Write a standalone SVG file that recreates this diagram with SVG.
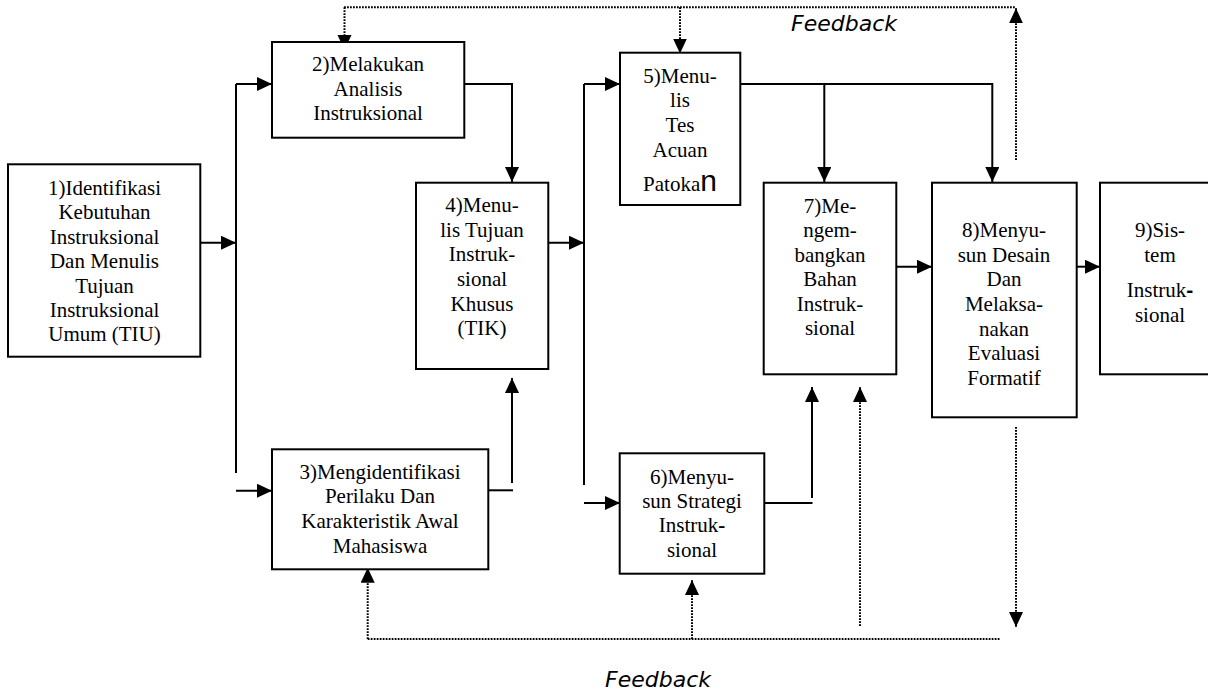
<svg xmlns="http://www.w3.org/2000/svg" width="1208" height="692" viewBox="0 0 1208 692">
  <style>
    .box { fill: #ffffff; stroke: #000000; stroke-width: 2; }
    .lbl { font-family: "Liberation Serif", "Times New Roman", serif; font-size: 21px; fill: #000000; text-anchor: middle; }
    .fb { font-family: "DejaVu Sans", Verdana, sans-serif; font-style: italic; font-size: 22px; fill: #000000; }
    .solid { fill: none; stroke: #000000; stroke-width: 2; }
    .dot { fill: none; stroke: #000000; stroke-width: 2; stroke-dasharray: 1.8 1.2; }
  </style>
  <defs>
    <marker id="ah" markerUnits="userSpaceOnUse" markerWidth="16" markerHeight="15" refX="15" refY="7" orient="auto">
      <path d="M0,0 L15,7 L0,14 z" fill="#000000"/>
    </marker>
  </defs>
  <rect width="1208" height="692" fill="#ffffff"/>

  <g id="connectors">
    <!-- solid flow -->
    <path class="solid" d="M200,242.7 H236" marker-end="url(#ah)"/>
    <path class="solid" d="M236,84 V473"/>
    <path class="solid" d="M236,84 H272" marker-end="url(#ah)"/>
    <path class="solid" d="M236,490.7 H272" marker-end="url(#ah)"/>
    <path class="solid" d="M464,84 H512 V182" marker-end="url(#ah)"/>
    <path class="solid" d="M488,490.3 H513"/>
    <path class="solid" d="M512,483 V378" marker-end="url(#ah)"/>
    <path class="solid" d="M548,242.7 H584" marker-end="url(#ah)"/>
    <path class="solid" d="M584,84 V485"/>
    <path class="solid" d="M584,84 H620" marker-end="url(#ah)"/>
    <path class="solid" d="M584,503 H620" marker-end="url(#ah)"/>
    <path class="solid" d="M740,84 H992.3 V182" marker-end="url(#ah)"/>
    <path class="solid" d="M824.3,84 V182" marker-end="url(#ah)"/>
    <path class="solid" d="M764,503 H812.5"/>
    <path class="solid" d="M812,498 V387" marker-end="url(#ah)"/>
    <path class="solid" d="M896,266.7 H932" marker-end="url(#ah)"/>
    <path class="solid" d="M1076.7,266.7 H1100" marker-end="url(#ah)"/>
    <!-- dotted feedback -->
    <path class="dot" d="M1016,160 V8.3" marker-end="url(#ah)"/>
    <path class="dot" d="M344,7.3 H1015"/>
    <path class="dot" d="M344.5,7.3 V50" marker-end="url(#ah)"/>
    <path class="dot" d="M680,7.3 V53.5" marker-end="url(#ah)"/>
    <path class="dot" d="M1016,427 V627" marker-end="url(#ah)"/>
    <path class="dot" d="M367.7,639 H1000.7"/>
    <path class="dot" d="M367.7,639 V567.7" marker-end="url(#ah)"/>
    <path class="dot" d="M692,639 V580" marker-end="url(#ah)"/>
    <path class="dot" d="M860,626 V387" marker-end="url(#ah)"/>
  </g>

  <g id="node1">
    <rect class="box" x="8" y="164.3" width="192.3" height="192.4"/>
    <text class="lbl" x="104.5" y="195">1)Identifikasi</text>
    <text class="lbl" x="104.5" y="219.4">Kebutuhan</text>
    <text class="lbl" x="104.5" y="243.8">Instruksional</text>
    <text class="lbl" x="104.5" y="268.2">Dan Menulis</text>
    <text class="lbl" x="104.5" y="292.6">Tujuan</text>
    <text class="lbl" x="104.5" y="317">Instruksional</text>
    <text class="lbl" x="104.5" y="341.4">Umum (TIU)</text>
  </g>

  <g id="node2">
    <rect class="box" x="272" y="42" width="192.3" height="95.7"/>
    <text class="lbl" x="368" y="71">2)Melakukan</text>
    <text class="lbl" x="368" y="96">Analisis</text>
    <text class="lbl" x="368" y="120">Instruksional</text>
  </g>

  <g id="node3">
    <rect class="box" x="272" y="449.3" width="216.3" height="120"/>
    <text class="lbl" x="380" y="479">3)Mengidentifikasi</text>
    <text class="lbl" x="380" y="503.4">Perilaku Dan</text>
    <text class="lbl" x="380" y="528">Karakteristik Awal</text>
    <text class="lbl" x="380" y="552.5">Mahasiswa</text>
  </g>

  <g id="node4">
    <rect class="box" x="416" y="182.7" width="132.3" height="186.3"/>
    <text class="lbl" x="482" y="212.3">4)Menu-</text>
    <text class="lbl" x="482" y="236.7">lis Tujuan</text>
    <text class="lbl" x="482" y="261.4">Instruk-</text>
    <text class="lbl" x="482" y="286">sional</text>
    <text class="lbl" x="482" y="310.6">Khusus</text>
    <text class="lbl" x="482" y="335">(TIK)</text>
  </g>

  <g id="node5">
    <rect class="box" x="620" y="52.7" width="120.3" height="152.3"/>
    <text class="lbl" x="680" y="82.7">5)Menu-</text>
    <text class="lbl" x="680" y="107.3">lis</text>
    <text class="lbl" x="680" y="131.7">Tes</text>
    <text class="lbl" x="680" y="156.5">Acuan</text>
    <text class="lbl" x="680" y="190.7">Patoka<tspan font-family="Liberation Sans, Arial, sans-serif" font-size="30px">n</tspan></text>
  </g>

  <g id="node6">
    <rect class="box" x="619.7" y="453.3" width="144.6" height="120.4"/>
    <text class="lbl" x="692" y="484">6)Menyu-</text>
    <text class="lbl" x="692" y="507.5">sun Strategi</text>
    <text class="lbl" x="692" y="531.7">Instruk<tspan font-weight="bold">-</tspan></text>
    <text class="lbl" x="692" y="556.5">sional</text>
  </g>

  <g id="node7">
    <rect class="box" x="763.7" y="182.7" width="132.6" height="191.6"/>
    <text class="lbl" x="830" y="212.7">7)Me-</text>
    <text class="lbl" x="830" y="236.7">ngem-</text>
    <text class="lbl" x="830" y="261.5">bangkan</text>
    <text class="lbl" x="830" y="286">Bahan</text>
    <text class="lbl" x="830" y="310.6">Instruk-</text>
    <text class="lbl" x="830" y="335">sional</text>
  </g>

  <g id="node8">
    <rect class="box" x="932" y="182.7" width="144.7" height="234.6"/>
    <text class="lbl" x="1004" y="236.7">8)Menyu-</text>
    <text class="lbl" x="1004" y="261.5">sun Desain</text>
    <text class="lbl" x="1004" y="286.2">Dan</text>
    <text class="lbl" x="1004" y="311">Melaksa-</text>
    <text class="lbl" x="1004" y="335.6">nakan</text>
    <text class="lbl" x="1004" y="360.4">Evaluasi</text>
    <text class="lbl" x="1004" y="385">Formatif</text>
  </g>

  <g id="node9">
    <rect class="box" x="1100" y="182.7" width="120" height="191.6"/>
    <text class="lbl" x="1160" y="236.7">9)Sis-</text>
    <text class="lbl" x="1160" y="261.5">tem</text>
    <text class="lbl" x="1160" y="296.7">Instruk<tspan font-family="Liberation Sans, Arial, sans-serif" font-weight="bold">-</tspan></text>
    <text class="lbl" x="1160" y="321.5">sional</text>
  </g>

  <g id="labels">
    <text class="fb" x="791" y="30.7">Feedback</text>
    <text class="fb" x="605" y="687">Feedback</text>
  </g>
</svg>
